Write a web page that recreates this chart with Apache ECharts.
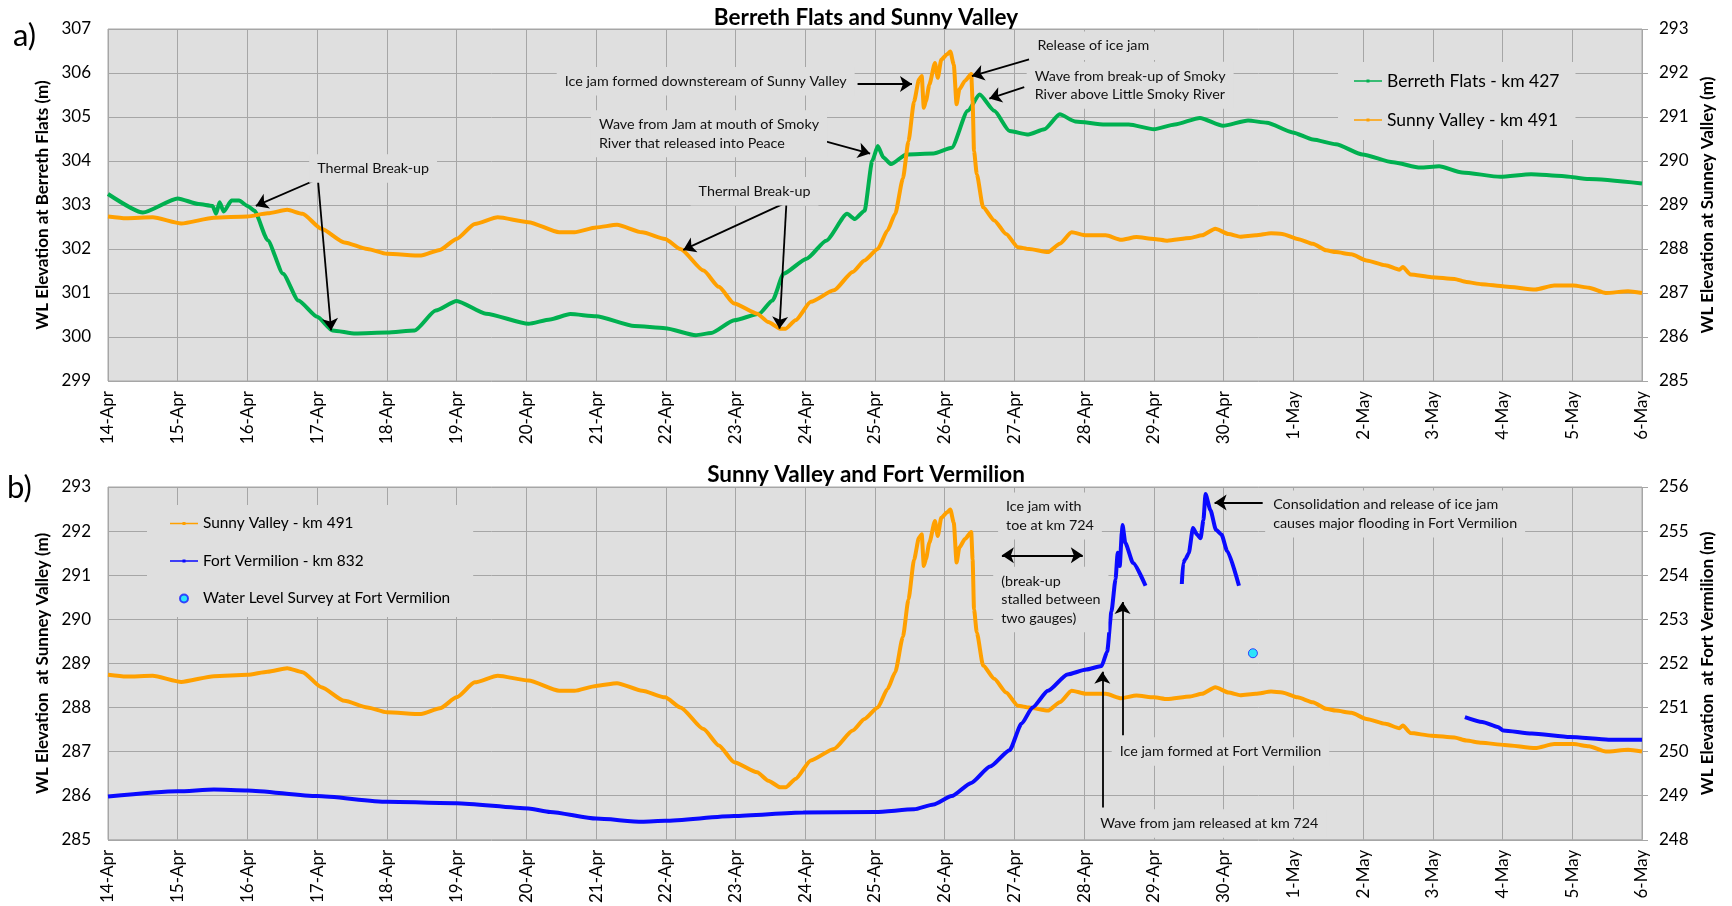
<!DOCTYPE html>
<html>
<head>
<meta charset="utf-8">
<title>Berreth Flats, Sunny Valley and Fort Vermilion</title>
<script src="https://cdn.jsdelivr.net/npm/echarts@6/dist/echarts.min.js"></script>
<style>
html, body { margin: 0; padding: 0; background: #fff; }
#chart { width: 1732px; height: 906px; }
</style>
</head>
<body>
<div id="chart"></div>
<script>
// tick labels of the day axis (day 0 = 14-Apr)
var dayLabels = ['14-Apr','15-Apr','16-Apr','17-Apr','18-Apr','19-Apr','20-Apr','21-Apr','22-Apr',
  '23-Apr','24-Apr','25-Apr','26-Apr','27-Apr','28-Apr','29-Apr','30-Apr',
  '1-May','2-May','3-May','4-May','5-May','6-May'];

// Berreth Flats - km 427 (m)
var berrethDays = [0,0.5,1.0,1.3,1.5,1.55,1.6,1.66,1.77,1.88,2.0,2.1,2.29,2.51,2.73,3.0,3.22,3.55,4.0,4.4,
  4.7,5.0,5.42,6.03,6.34,6.63,7.0,7.55,7.99,8.43,8.65,8.98,9.34,9.53,9.69,10.02,10.3,10.6,10.71,10.85,
  10.96,11.04,11.12,11.23,11.45,11.84,12.1,12.33,12.5,12.71,12.93,13.2,13.43,13.65,13.87,14.3,14.64,15.0,
  15.3,15.66,15.99,16.35,16.62,16.99,17.28,17.61,17.99,18.43,18.82,19.09,19.42,19.97,20.41,20.85,21.24,22.0];
var berrethLevels = [303.25,302.83,303.15,303.02,302.98,302.8,303.06,302.85,303.1,303.1,302.98,302.87,302.2,301.44,300.83,300.46,300.15,300.08,300.1,300.15,
  300.6,300.82,300.53,300.3,300.4,300.52,300.47,300.25,300.2,300.04,300.09,300.38,300.53,300.83,301.44,301.78,302.19,302.8,302.68,302.87,
  304.0,304.34,304.08,303.93,304.15,304.17,304.3,305.14,305.51,305.14,304.68,304.6,304.72,305.06,304.9,304.83,304.83,304.72,
  304.83,304.98,304.8,304.92,304.87,304.65,304.49,304.38,304.15,303.97,303.85,303.88,303.74,303.64,303.7,303.66,303.59,303.49];

// Sunny Valley - km 491 (m)
var sunnyDays = [0,0.26,0.64,1.05,1.52,2.0,2.29,2.57,2.79,3.06,3.39,3.72,4.0,4.49,4.76,5.0,5.26,5.59,6.03,6.47,
  6.69,7.0,7.3,7.66,7.99,8.21,8.54,8.76,8.98,9.31,9.47,9.64,9.72,9.86,10.08,10.41,10.68,10.85,11.04,11.18,
  11.29,11.4,11.48,11.56,11.63,11.67,11.7,11.73,11.78,11.86,11.9,11.95,12.03,12.08,12.13,12.17,12.21,12.29,12.38,12.4,
  12.42,12.46,12.55,12.71,12.88,13.05,13.21,13.48,13.65,13.82,14.03,14.31,14.53,14.75,15.0,15.19,15.52,15.69,15.88,16.07,
  16.24,16.46,16.68,16.84,17.06,17.28,17.47,17.61,17.83,18.05,18.32,18.52,18.57,18.68,18.98,19.31,19.48,19.7,20.03,20.47,
  20.74,21.02,21.24,21.48,21.8,22.0];
var sunnyLevels = [288.74,288.70,288.72,288.58,288.71,288.74,288.81,288.89,288.80,288.46,288.15,288.00,287.89,287.85,287.98,288.23,288.57,288.72,288.61,288.38,
  288.38,288.49,288.55,288.38,288.23,288.00,287.51,287.14,286.76,286.53,286.34,286.19,286.19,286.38,286.80,287.06,287.48,287.74,288.00,288.42,
  288.80,289.60,290.45,291.35,291.85,291.93,291.21,291.36,291.74,292.23,291.89,292.30,292.42,292.49,292.19,291.29,291.63,291.82,291.98,291.36,
  290.23,289.70,288.95,288.65,288.34,288.04,288.00,287.93,288.12,288.38,288.31,288.31,288.21,288.27,288.23,288.19,288.25,288.31,288.46,288.34,
  288.28,288.31,288.36,288.34,288.23,288.12,287.97,287.93,287.88,287.74,287.63,287.53,287.59,287.42,287.36,287.32,287.25,287.20,287.15,287.08,
  287.17,287.17,287.12,287.00,287.04,287.00];

// Fort Vermilion - km 832 (m), null = no record
var fortDays = [0,1.0,1.52,2.0,3.0,4.0,5.0,6.03,6.34,7.0,7.66,7.99,8.98,9.97,11.01,11.56,11.84,12.1,12.38,12.65,
  12.93,13.1,13.26,13.48,13.76,14.03,14.25,14.33,14.39,14.45,14.48,14.51,14.54,14.55,14.59,14.7,14.88,
  15.1,
  15.4,15.42,15.45,15.5,15.56,15.62,15.67,15.71,15.74,15.81,15.89,15.97,16.05,16.22,
  17.0,
  19.46,19.71,19.93,20.01,20.42,20.97,21.52,22.0];
var fortLevels = [248.98,249.10,249.14,249.12,248.99,248.86,248.83,248.71,248.63,248.48,248.41,248.43,248.54,248.62,248.63,248.69,248.80,248.99,249.29,249.66,
  250.03,250.63,251.00,251.38,251.75,251.86,251.94,252.27,253.17,253.91,254.51,254.21,254.96,255.14,254.73,254.28,253.76,
  null,
  253.80,254.28,254.36,254.50,255.07,254.92,254.84,255.25,255.84,255.48,255.03,254.92,254.55,253.76,
  null,
  250.78,250.67,250.56,250.48,250.41,250.33,250.27,250.27];

// Water Level Survey at Fort Vermilion
var surveyDays = [16.42];
var surveyLevels = [252.23];

function pairs(xs, ys) {
  var out = [];
  for (var i = 0; i < xs.length; i++) {
    out.push([xs[i], ys[i]]);
  }
  return out;
}

var FONT = 'Lato';
var GRIDLINE = '#a6a6a6';
var PLOTBG = '#dfdfdf';
// thin line with a small marker, as in the legend of the original
var LINE_ICON = 'path://M0,3.3h28v1.4h-28z M12.5,2.5h3v3h-3z';

// text notes and arrows, placed in the axis units of each panel
function notes(list) {
  return {
    symbol: 'circle',
    symbolSize: 0,
    silent: true,
    animation: false,
    label: {
      show: true,
      position: 'right',
      distance: 0,
      offset: [-8, 0],
      color: '#111',
      fontFamily: FONT,
      fontSize: 14.3,
      lineHeight: 18.5,
      align: 'left',
      backgroundColor: PLOTBG,
      padding: [5, 8],
      formatter: function (p) { return p.name; }
    },
    data: list.map(function (n) { return { name: n[0], coord: n[1] }; })
  };
}

function arrows(list) {
  return {
    silent: true,
    animation: false,
    symbolSize: 12,
    label: { show: false },
    lineStyle: { color: '#000', width: 1.8, type: 'solid' },
    emphasis: { disabled: true },
    data: list.map(function (a) {
      return [
        { coord: a[0], symbol: a[2] ? 'arrow' : 'none' },
        { coord: a[1], symbol: 'arrow' }
      ];
    })
  };
}

function yAxisOf(grid, pos, min, max, name, gap, withSplit) {
  return {
    type: 'value',
    gridIndex: grid,
    position: pos,
    min: min,
    max: max,
    interval: 1,
    name: name,
    nameLocation: 'middle',
    nameRotate: 90,
    nameGap: gap,
    nameTextStyle: { fontFamily: FONT, fontWeight: 'bold', fontSize: 17, color: '#000' },
    axisLine: { show: false },
    axisTick: { show: pos === 'right', length: 6, lineStyle: { color: GRIDLINE } },
    axisLabel: { fontFamily: FONT, fontSize: 17, color: '#000', margin: 17 },
    splitLine: { show: withSplit, lineStyle: { color: GRIDLINE, width: 1 } }
  };
}

function xAxisOf(grid) {
  return {
    type: 'value',
    gridIndex: grid,
    min: 0,
    max: 22,
    interval: 1,
    axisLine: { show: false },
    axisTick: { show: false },
    axisLabel: {
      rotate: 90,
      margin: 10,
      fontFamily: FONT,
      fontSize: 17,
      color: '#000',
      formatter: function (v) { return dayLabels[v]; }
    },
    splitLine: { show: true, lineStyle: { color: GRIDLINE, width: 1 } }
  };
}

function lineSeries(name, xi, yi, data, color) {
  return {
    name: name,
    type: 'line',
    xAxisIndex: xi,
    yAxisIndex: yi,
    data: data,
    symbol: 'none',
    smooth: 0.2,
    smoothMonotone: 'x',
    connectNulls: false,
    color: color,
    lineStyle: { width: 4 }
  };
}

var berrethA = lineSeries('Berreth Flats - km 427', 0, 0, pairs(berrethDays, berrethLevels), '#00b050');
berrethA.markPoint = notes([
  ['Thermal Break-up', [3.0, 303.83]],
  ['Thermal Break-up', [8.47, 303.31]],
  ['Wave from Jam at mouth of Smoky\nRiver that released into Peace', [7.04, 304.62]],
  ['Ice jam formed downsteream of Sunny Valley', [6.55, 305.81]],
  ['Release of ice jam', [13.33, 306.62]],
  ['Wave from break-up of Smoky\nRiver above Little Smoky River', [13.29, 305.72]]
]);
berrethA.markLine = arrows([
  [[3.01, 303.59], [2.12, 302.98]],
  [[3.01, 303.59], [3.2, 300.15]],
  [[9.73, 303.06], [8.25, 301.98]],
  [[9.73, 303.06], [9.63, 300.19]],
  [[10.12, 304.52], [10.93, 304.17]],
  [[10.75, 305.75], [11.53, 305.75]],
  [[13.21, 306.31], [12.39, 305.93]],
  [[13.14, 305.68], [12.64, 305.42]]
]);

var sunnyA = lineSeries('Sunny Valley - km 491', 0, 1, pairs(sunnyDays, sunnyLevels), '#ffa000');

var sunnyB = lineSeries('Sunny Valley - km 491', 1, 2, pairs(sunnyDays, sunnyLevels), '#ffa000');
sunnyB.markPoint = notes([
  ['Ice jam with\ntoe at km 724', [12.88, 292.34]],
  ['(break-up\nstalled between\ntwo gauges)', [12.81, 290.45]],
  ['Ice jam formed at Fort Vermilion', [14.51, 287.0]],
  ['Wave from jam released at km 724', [14.23, 285.37]],
  ['Consolidation and release of ice jam\ncauses major flooding in Fort Vermilion', [16.71, 292.39]]
]);
sunnyB.markLine = arrows([
  [[12.82, 291.45], [13.98, 291.45], true],
  [[14.55, 287.37], [14.55, 290.39]],
  [[14.26, 285.73], [14.26, 288.81]],
  [[16.56, 292.65], [15.87, 292.65]]
]);

var fortB = lineSeries('Fort Vermilion - km 832', 1, 3, pairs(fortDays, fortLevels), '#0a0aff');

var surveyB = {
  name: 'Water Level Survey at Fort Vermilion',
  type: 'scatter',
  xAxisIndex: 1,
  yAxisIndex: 3,
  data: pairs(surveyDays, surveyLevels),
  symbol: 'circle',
  symbolSize: 9,
  itemStyle: { color: '#00e5ff', borderColor: '#1a1aff', borderWidth: 1 }
};

var option = {
  animation: false,
  backgroundColor: '#fff',
  textStyle: { fontFamily: FONT },
  title: [
    { text: 'Berreth Flats and Sunny Valley', left: 'center', top: 6, padding: 0,
      textStyle: { fontFamily: FONT, fontWeight: 'bold', fontSize: 22.5, color: '#000' } },
    { text: 'Sunny Valley and Fort Vermilion', left: 'center', top: 463, padding: 0,
      textStyle: { fontFamily: FONT, fontWeight: 'bold', fontSize: 22.5, color: '#000' } },
    { text: 'a)', left: 13, top: 20, padding: 0,
      textStyle: { fontFamily: FONT, fontWeight: 'normal', fontSize: 31, color: '#000' } },
    { text: 'b)', left: 7, top: 472, padding: 0,
      textStyle: { fontFamily: FONT, fontWeight: 'normal', fontSize: 31, color: '#000' } }
  ],
  legend: [
    {
      orient: 'vertical',
      left: 1338,
      top: 62,
      padding: [10, 16, 11, 16],
      itemWidth: 28,
      itemHeight: 8,
      itemGap: 21,
      symbolKeepAspect: true,
      backgroundColor: PLOTBG,
      textStyle: { fontFamily: FONT, fontSize: 17.5, color: '#000' },
      data: [
        { name: 'Berreth Flats - km 427', icon: LINE_ICON },
        { name: 'Sunny Valley - km 491', icon: LINE_ICON }
      ]
    },
    {
      orient: 'vertical',
      left: 147,
      top: 505,
      padding: [11, 23, 11, 23],
      itemWidth: 28,
      itemHeight: 8,
      itemGap: 22.5,
      symbolKeepAspect: true,
      backgroundColor: PLOTBG,
      textStyle: { fontFamily: FONT, fontSize: 15.4, color: '#000' },
      data: [
        { name: 'Sunny Valley - km 491', icon: LINE_ICON },
        { name: 'Fort Vermilion - km 832', icon: LINE_ICON },
        { name: 'Water Level Survey at Fort Vermilion', icon: 'circle' }
      ]
    }
  ],
  grid: [
    { left: 108, right: 90, top: 29, height: 352, show: true, backgroundColor: PLOTBG, borderColor: GRIDLINE, borderWidth: 1 },
    { left: 108, right: 90, top: 487, height: 353, show: true, backgroundColor: PLOTBG, borderColor: GRIDLINE, borderWidth: 1 }
  ],
  xAxis: [xAxisOf(0), xAxisOf(1)],
  yAxis: [
    yAxisOf(0, 'left', 299, 307, 'WL Elevation at Berreth Flats (m)', 51, true),
    yAxisOf(0, 'right', 285, 293, 'WL Elevation at Sunney Valley (m)', 55, false),
    yAxisOf(1, 'left', 285, 293, 'WL Elevation  at Sunney Valley (m)', 51, true),
    yAxisOf(1, 'right', 248, 256, 'WL Elevation  at Fort Vermilion (m)', 55, false)
  ],
  series: [berrethA, sunnyA, sunnyB, fortB, surveyB]
};

var chart = echarts.init(document.getElementById('chart'));
chart.setOption(option);
</script>
</body>
</html>
